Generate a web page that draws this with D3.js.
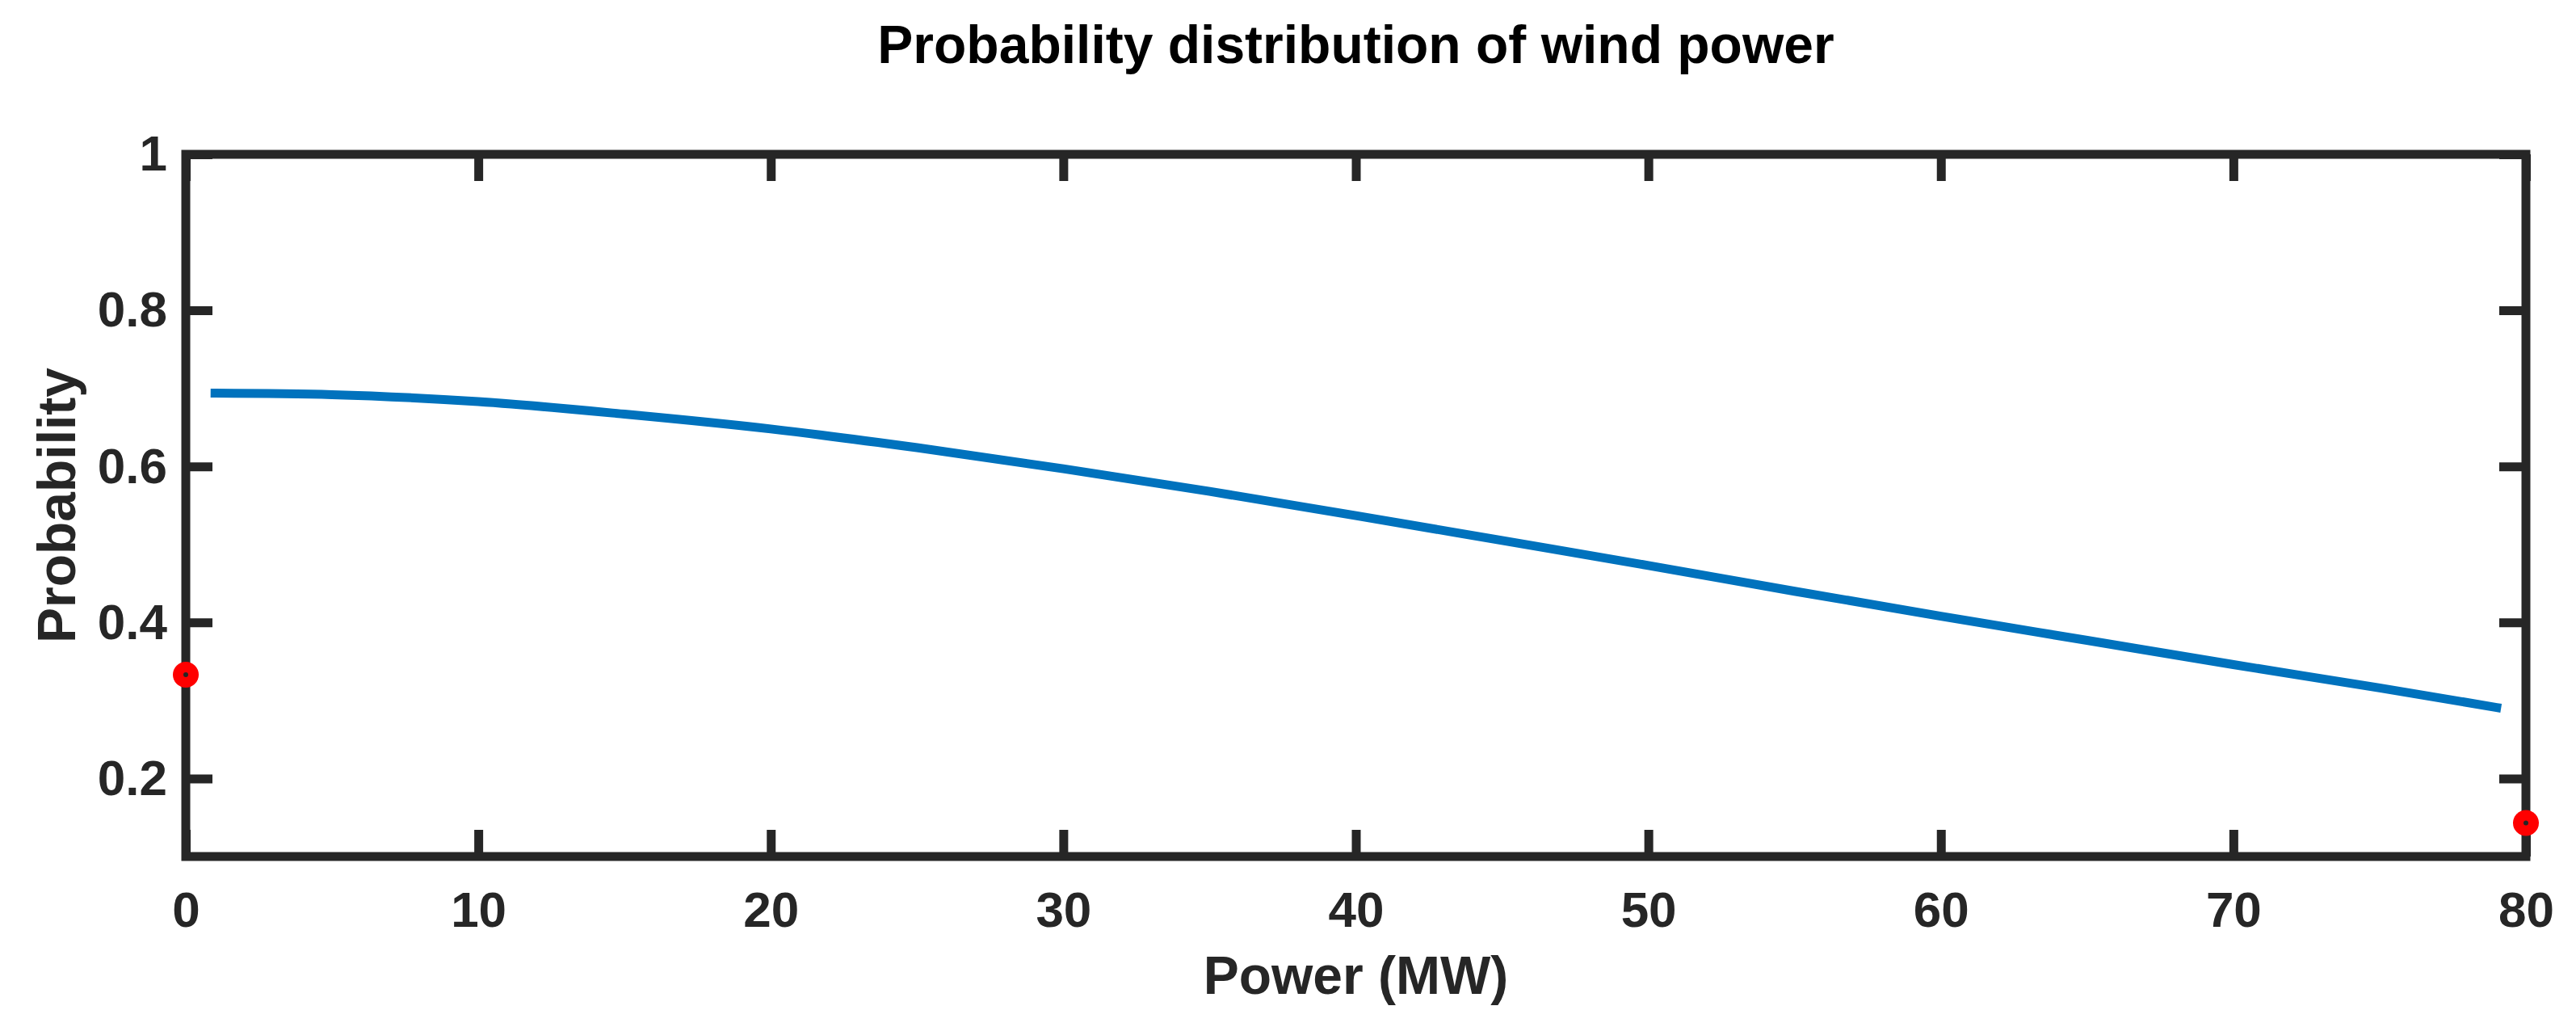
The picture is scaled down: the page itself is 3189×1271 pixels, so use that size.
<!DOCTYPE html>
<html>
<head>
<meta charset="utf-8">
<script src="https://cdn.jsdelivr.net/npm/d3@7"></script>
<style>
  html, body { margin: 0; padding: 0; background: #fff; }
</style>
</head>
<body>
<div id="chart"></div>
<script>
// curve (MW -> probability)
const powerMW = [1, 5, 10, 15, 20, 25, 30, 35, 40, 45, 50, 55, 60, 65, 70, 75, 79];
const probability = [0.694, 0.692, 0.683, 0.667, 0.648, 0.624, 0.597, 0.568, 0.537, 0.505, 0.473, 0.440, 0.408, 0.377, 0.346, 0.316, 0.291];

// the two red end points
const endPower = [0, 80];
const endProbability = [0.333, 0.143];

const xTicks = [0, 10, 20, 30, 40, 50, 60, 70, 80];
const yTicks = [0.2, 0.4, 0.6, 0.8, 1];

function chart() {
    const width = 3189,
        height = 1271;
    const left = 230, right = 3127, top = 191, bottom = 1060;
    const ink = "#262626";
    const font = "'Liberation Sans', Arial, Helvetica, sans-serif";

    const svg = d3.select("#chart").append("svg")
        .attr("width", width)
        .attr("height", height)
        .style("font-family", font)
        .style("font-weight", "bold");

    const x = d3.scaleLinear().domain([0, 80]).range([left, right]);
    const y = d3.scaleLinear().domain([0.1, 1]).range([bottom, top]);

    const tickLen = 33;

    function styleAxis(g) {
        g.select(".domain").remove();
        g.selectAll(".tick line")
            .attr("stroke", ink)
            .attr("stroke-width", 11);
        g.selectAll(".tick text")
            .attr("fill", ink)
            .style("font-size", "62px")
            .style("font-family", font)
            .style("font-weight", "bold");
    }

    // bottom + left with labels
    svg.append("g")
        .attr("transform", `translate(0,${bottom})`)
        .call(d3.axisBottom(x).tickValues(xTicks).tickSizeInner(-tickLen).tickSizeOuter(0).tickPadding(43))
        .call(styleAxis);

    svg.append("g")
        .attr("transform", `translate(${left},0)`)
        .call(d3.axisLeft(y).tickValues(yTicks).tickFormat(d => String(d))
            .tickSizeInner(-tickLen).tickSizeOuter(0).tickPadding(23))
        .call(styleAxis);

    // mirrored ticks on top + right
    svg.append("g")
        .attr("transform", `translate(0,${top})`)
        .call(d3.axisTop(x).tickValues(xTicks).tickFormat("").tickSizeInner(-tickLen).tickSizeOuter(0))
        .call(styleAxis);

    svg.append("g")
        .attr("transform", `translate(${right},0)`)
        .call(d3.axisRight(y).tickValues(yTicks).tickFormat("").tickSizeInner(-tickLen).tickSizeOuter(0))
        .call(styleAxis);

    // axes box
    svg.append("rect")
        .attr("x", left)
        .attr("y", top)
        .attr("width", right - left)
        .attr("height", bottom - top)
        .attr("fill", "none")
        .attr("stroke", ink)
        .attr("stroke-width", 11)
        .attr("stroke-linejoin", "miter");

    // blue curve
    const pts = powerMW.map((p, i) => [p, probability[i]]);
    const line = d3.line()
        .x(d => x(d[0]))
        .y(d => y(d[1]))
        .curve(d3.curveMonotoneX);

    svg.append("path")
        .datum(pts)
        .attr("d", line)
        .attr("fill", "none")
        .attr("stroke", "#0072BD")
        .attr("stroke-width", 11)
        .attr("stroke-linecap", "square");

    // red end markers
    const ends = endPower.map((p, i) => [p, endProbability[i]]);
    const marks = svg.append("g").selectAll("g").data(ends).join("g")
        .attr("transform", d => `translate(${x(d[0])},${y(d[1])})`);
    marks.append("circle")
        .attr("r", 16)
        .attr("fill", "#ff0000");
    marks.append("circle")
        .attr("r", 3)
        .attr("fill", ink);

    // title and labels
    svg.append("text")
        .attr("x", (left + right) / 2)
        .attr("y", 78)
        .attr("text-anchor", "middle")
        .attr("fill", "#000")
        .style("font-size", "66px")
        .text("Probability distribution of wind power");

    svg.append("text")
        .attr("x", (left + right) / 2)
        .attr("y", 1230)
        .attr("text-anchor", "middle")
        .attr("fill", ink)
        .style("font-size", "66px")
        .text("Power (MW)");

    svg.append("text")
        .attr("transform", `translate(93,${(top + bottom) / 2}) rotate(-90)`)
        .attr("text-anchor", "middle")
        .attr("fill", ink)
        .style("font-size", "66px")
        .text("Probability");
}

window.onload = function() {
    chart();
};
</script>
</body>
</html>
